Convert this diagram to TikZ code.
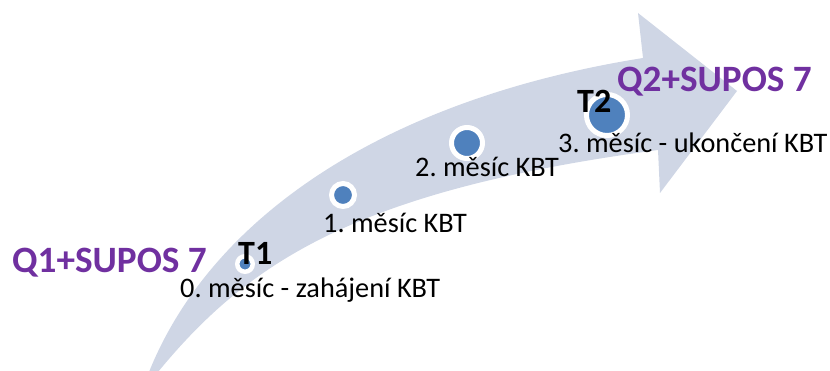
\documentclass[tikz,border=0pt]{standalone}
\usepackage{fontspec}
\setmainfont{Carlito}
\frenchspacing
\definecolor{bandblue}{RGB}{207,214,229}
\definecolor{dotblue}{RGB}{79,129,189}
\definecolor{titlepurple}{RGB}{112,48,160}
\begin{document}
\begin{tikzpicture}[x=1pt,y=-1pt,
  dot/.style={circle,fill=dotblue,draw=white,inner sep=0pt},
  label/.style={anchor=base west,inner sep=0pt,font=\fontsize{28.3}{28}\selectfont},
  tmark/.style={anchor=base west,inner sep=0pt,font=\fontsize{34}{34}\selectfont\bfseries},
  qtitle/.style={anchor=base west,inner sep=0pt,text=titlepurple,font=\fontsize{37.2}{37}\selectfont\bfseries}]
\useasboundingbox (0,0) rectangle (830,371);
% curved arrow
\fill[bandblue] (149,372) .. controls (210,220) and (380,100) .. (643,58)
  -- (638,13) -- (737,91) -- (660,193) -- (658,150)
  .. controls (360,190) and (250,260) .. (158,372) -- cycle;
% milestones
\node[dot,line width=4.5pt,minimum size=15.5pt] (m0) at (245,264) {};
\node[dot,line width=5pt,minimum size=23pt] (m1) at (343,195) {};
\node[dot,line width=5pt,minimum size=31pt] (m2) at (467,143) {};
\node[dot,line width=5pt,minimum size=41pt] (m3) at (607,115) {};
% labels
\node[qtitle] (q1) at (12,273) {Q1+SUPOS 7};
\node[qtitle] (q2) at (617,92) {Q2+SUPOS 7};
\node[tmark] (t1) at (238,265) {T1};
\node[tmark] (t2) at (577,113) {T2};
\node[label] (l0) at (180,298) {0. měsíc - zahájení KBT};
\node[label] (l1) at (323,233) {1. měsíc KBT};
\node[label] (l2) at (415,177) {2. měsíc KBT};
\node[label] (l3) at (558,153) {3. měsíc - ukončení KBT};
\end{tikzpicture}
\end{document}
